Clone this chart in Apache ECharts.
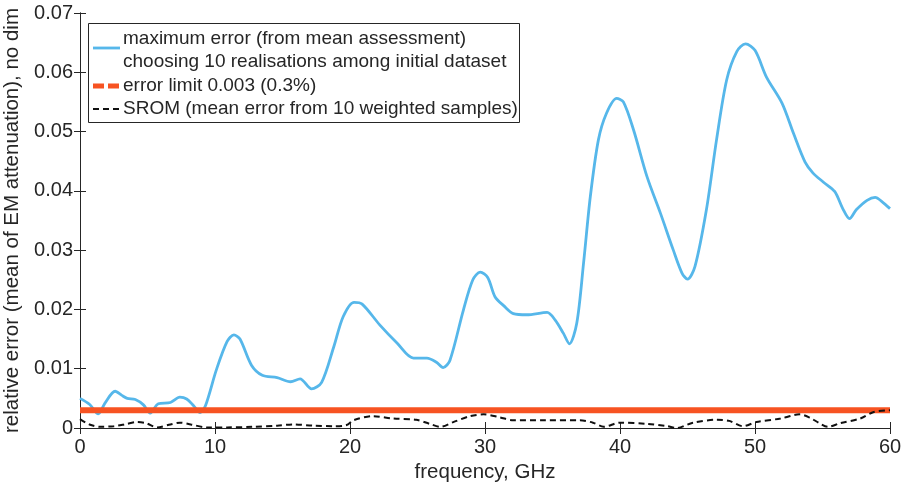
<!DOCTYPE html>
<html>
<head>
<meta charset="utf-8">
<script src="https://cdn.jsdelivr.net/npm/echarts@6/dist/echarts.min.js"></script>
<style>html,body{margin:0;padding:0;background:#fff}#c{width:904px;height:491px}</style>
</head>
<body>
<div id="c"></div>
<script>
// ---- data ----
const freqMax = [0,0.7,1.35,1.85,2.6,3.1,3.5,4.1,4.7,5.2,5.8,6.7,7.4,7.9,8.4,8.9,9.3,10.1,10.9,11.4,11.85,12.7,13.5,14.6,15.6,16.3,17.15,17.9,18.8,19.5,20.3,20.9,22.2,23.5,24.7,25.7,26.4,26.9,27.4,28.4,29.1,29.65,30.2,30.75,31.4,32.1,33.1,34.6,35.2,35.8,36.25,36.8,37.3,37.8,38.4,39.0,39.75,40.25,41.0,42.0,43.0,43.95,44.6,45.0,45.55,46.4,47.15,47.9,48.65,49.3,50.0,50.85,52.0,52.85,53.7,54.3,55.05,55.9,56.5,57.0,57.5,58.3,58.9,59.4,60];
const errMax = [0.0050,0.0040,0.0024,0.0042,0.0062,0.0055,0.0050,0.0048,0.0039,0.0025,0.0041,0.0043,0.0052,0.0049,0.0038,0.0026,0.0038,0.0098,0.0146,0.0157,0.0150,0.0106,0.0089,0.0085,0.0078,0.0083,0.0066,0.0077,0.0137,0.0188,0.0212,0.0209,0.0174,0.0143,0.0118,0.0118,0.0111,0.0102,0.0114,0.0199,0.0250,0.0263,0.0254,0.0221,0.0206,0.0193,0.0191,0.0195,0.0182,0.0160,0.0142,0.0177,0.0278,0.0390,0.0486,0.0531,0.0556,0.0550,0.0503,0.0424,0.0362,0.0300,0.0261,0.0251,0.0272,0.0368,0.0486,0.0587,0.0635,0.0648,0.0637,0.0592,0.0548,0.0497,0.0449,0.0430,0.0415,0.0399,0.0370,0.0353,0.0368,0.0384,0.0389,0.0382,0.0370];
const freqSrom = [0,0.7,1.5,2.5,3.3,4.2,4.9,5.7,6.7,7.4,8.2,9.4,10.9,12.8,14.6,15.8,17.3,18.8,19.75,20.25,21.7,23.2,24.9,25.9,26.7,27.65,28.9,29.9,31.1,32.1,34.3,37.0,38.0,38.8,40.0,42.0,43.5,44.2,45.4,47.2,48.1,49.1,50.1,51.9,53.3,54.1,54.7,55.4,56.3,57.8,58.8,60];
const errSrom = [0.0015,0.0006,0.0002,0.0003,0.0006,0.0010,0.0008,0.0001,0.0006,0.0009,0.0006,0.0001,0.0001,0.0002,0.0004,0.0006,0.0004,0.0003,0.0005,0.0013,0.0020,0.0016,0.0014,0.0007,0.0002,0.0010,0.0020,0.0023,0.0018,0.0013,0.0013,0.0013,0.0009,0.0002,0.0009,0.0007,0.0003,0.0000,0.0009,0.0014,0.0012,0.0003,0.0010,0.0016,0.0023,0.0017,0.0009,0.0002,0.0008,0.0016,0.0027,0.0030];
const limitFreq = [0, 60];
const limitValue = [0.003, 0.003];
const xTicks = [0, 10, 20, 30, 40, 50, 60];
const yTicks = [0, 0.01, 0.02, 0.03, 0.04, 0.05, 0.06, 0.07];
const legendTexts = [
  'maximum error (from mean assessment)',
  'choosing 10 realisations among initial dataset',
  'error limit 0.003 (0.3%)',
  'SROM (mean error from 10 weighted samples)'
];
const xName = 'frequency, GHz';
const yName = 'relative error (mean of EM attenuation), no dim';

// ---- chart ----
const FONT = '"Liberation Sans", Arial, Helvetica, sans-serif';
const TXT = '#262626';
const zip = (a, b) => a.map((v, i) => [v, b[i]]);
const chart = echarts.init(document.getElementById('c'), null, {renderer: 'canvas'});

const axisCommon = {
  axisLine: {show: true, lineStyle: {color: TXT, width: 1}},
  axisTick: {show: true, inside: true, length: 6, lineStyle: {color: TXT}},
  splitLine: {show: false}
};

chart.setOption({
  animation: false,
  backgroundColor: '#fff',
  grid: {left: 80, right: 14, top: 13, bottom: 63, containLabel: false, outerBoundsMode: 'none'},
  xAxis: [
    Object.assign({}, axisCommon, {
      type: 'value', min: xTicks[0], max: xTicks[xTicks.length - 1], interval: 10,
      position: 'bottom',
      name: xName, nameLocation: 'middle', nameGap: 31,
      nameTextStyle: {fontFamily: FONT, fontSize: 20.5, color: TXT},
      axisLabel: {fontFamily: FONT, fontSize: 20, color: TXT, margin: 9}
    }),
    Object.assign({}, axisCommon, {
      type: 'value', min: xTicks[0], max: xTicks[xTicks.length - 1], interval: 10,
      position: 'top', axisLabel: {show: false}
    })
  ],
  yAxis: [
    Object.assign({}, axisCommon, {
      type: 'value', min: yTicks[0], max: yTicks[yTicks.length - 1], interval: 0.01,
      position: 'left',
      name: yName, nameLocation: 'middle', nameGap: 44,
      nameTextStyle: {fontFamily: FONT, fontSize: 20.5, color: TXT},
      axisLabel: {fontFamily: FONT, fontSize: 20, color: TXT, margin: 7,
        formatter: v => (Math.round(v * 100) / 100).toString()}
    }),
    Object.assign({}, axisCommon, {
      type: 'value', min: yTicks[0], max: yTicks[yTicks.length - 1], interval: 0.01,
      position: 'right', axisLabel: {show: false}
    })
  ],
  series: [
    {
      type: 'line', name: legendTexts[0], data: zip(freqMax, errMax),
      smooth: 0.3, showSymbol: false, z: 2,
      lineStyle: {color: '#56b7ea', width: 2.8}
    },
    {
      type: 'line', name: legendTexts[2], data: zip(limitFreq, limitValue),
      showSymbol: false, z: 3,
      lineStyle: {color: '#f75322', width: 6}
    },
    {
      type: 'line', name: legendTexts[3], data: zip(freqSrom, errSrom),
      smooth: 0.3, showSymbol: false, z: 4,
      lineStyle: {color: '#111', width: 2, type: [6, 4]}
    }
  ],
  graphic: [
    {type: 'rect', shape: {x: 88.5, y: 23.5, width: 431, height: 99}, style: {fill: '#fff', stroke: TXT, lineWidth: 1}, z: 100},
    {type: 'line', shape: {x1: 93, y1: 48, x2: 120, y2: 48}, style: {stroke: '#56b7ea', lineWidth: 2.8}, z: 101},
    {type: 'line', shape: {x1: 93, y1: 86, x2: 120, y2: 86}, style: {stroke: '#f75322', lineWidth: 5, lineDash: [11, 4]}, z: 101},
    {type: 'line', shape: {x1: 93, y1: 109, x2: 120, y2: 109}, style: {stroke: '#111', lineWidth: 2, lineDash: [6, 4]}, z: 101},
    {type: 'text', x: 123, y: 39, style: {text: legendTexts[0], font: '19px ' + FONT, fill: TXT, verticalAlign: 'middle'}, z: 101},
    {type: 'text', x: 123, y: 62, style: {text: legendTexts[1], font: '19px ' + FONT, fill: TXT, verticalAlign: 'middle'}, z: 101},
    {type: 'text', x: 123, y: 86, style: {text: legendTexts[2], font: '19px ' + FONT, fill: TXT, verticalAlign: 'middle'}, z: 101},
    {type: 'text', x: 123, y: 109, style: {text: legendTexts[3], font: '19px ' + FONT, fill: TXT, verticalAlign: 'middle'}, z: 101}
  ]
});
</script>
</body>
</html>
